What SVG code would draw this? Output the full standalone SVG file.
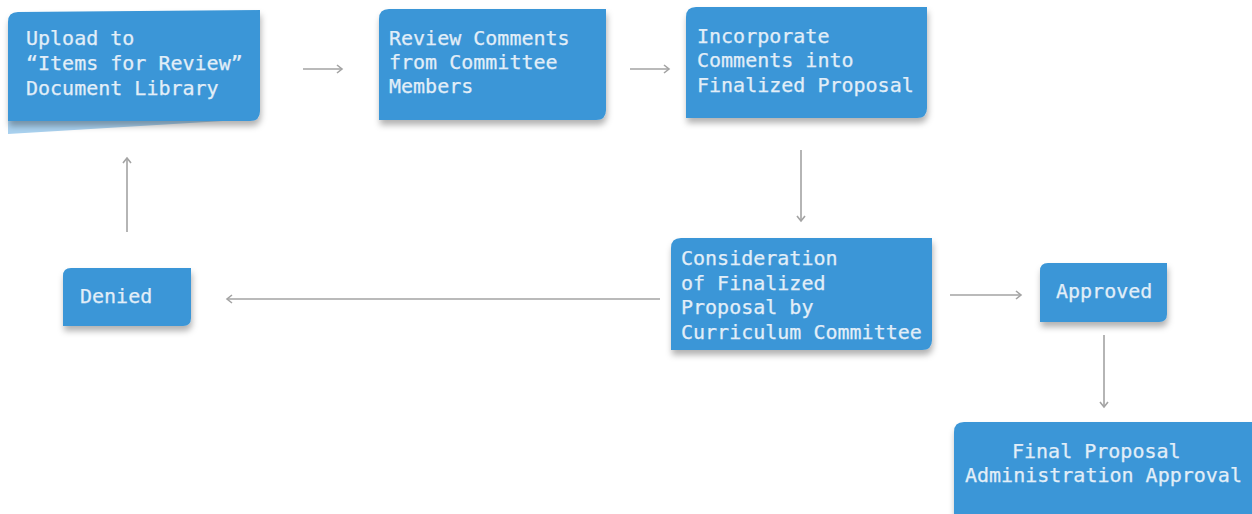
<svg xmlns="http://www.w3.org/2000/svg" width="1252" height="514" viewBox="0 0 1252 514">
  <style>
    .box { fill: #3a96d7; filter: url(#shadow); }
    .label { font-family: "DejaVu Sans Mono", "Liberation Mono", monospace; font-size: 20px; fill: #e2eef8; stroke: #e2eef8; stroke-width: 0.25; }
    .link { fill: none; stroke: #a3a3a3; stroke-width: 1.6; marker-end: url(#chev); }
  </style>
  <defs>
    <filter id="shadow" x="-10%" y="-10%" width="120%" height="140%">
      <feDropShadow dx="1" dy="5" stdDeviation="3" flood-color="#000" flood-opacity="0.3"/>
    </filter>
    <marker id="chev" viewBox="0 0 10 10" refX="7" refY="5" markerWidth="10" markerHeight="10" markerUnits="userSpaceOnUse" orient="auto">
      <path d="M2,1 L7,5 L2,9" fill="none" stroke="#a3a3a3" stroke-width="1.6"/>
    </marker>
  </defs>

  <!-- connectors -->
  <g id="connectors">
    <line class="link" x1="303" y1="69" x2="342" y2="69"/>
    <line class="link" x1="630" y1="69" x2="669" y2="69"/>
    <line class="link" x1="801" y1="150" x2="801" y2="221"/>
    <line class="link" x1="660" y1="299" x2="227" y2="299"/>
    <line class="link" x1="127" y1="232" x2="127" y2="158"/>
    <line class="link" x1="950" y1="295" x2="1021" y2="295"/>
    <line class="link" x1="1104" y1="335" x2="1104" y2="407"/>
  </g>

  <g id="upload">
    <polygon points="8,121 258,119 8,134" fill="#a9d1ef"/>
    <path class="box" d="M8,22 Q8,12 18,12 L260,10 L260,111 Q260,121 250,121 L8,121 Z"/>
    <text class="label" x="26" y="45">Upload to</text>
    <text class="label" x="26" y="70">“Items for Review”</text>
    <text class="label" x="26" y="95">Document Library</text>
  </g>

  <g id="review">
    <path class="box" d="M379,19 Q379,9 389,9 L606,9 L606,110 Q606,120 596,120 L379,120 Z"/>
    <text class="label" x="389" y="45">Review Comments</text>
    <text class="label" x="389" y="69">from Committee</text>
    <text class="label" x="389" y="93">Members</text>
  </g>

  <g id="incorporate">
    <path class="box" d="M686,17 Q686,7 696,7 L927,7 L927,108 Q927,118 917,118 L686,118 Z"/>
    <text class="label" x="697" y="43">Incorporate</text>
    <text class="label" x="697" y="67">Comments into</text>
    <text class="label" x="697" y="92">Finalized Proposal</text>
  </g>

  <g id="consideration">
    <path class="box" d="M671,248 Q671,238 681,238 L932,238 L932,340 Q932,350 922,350 L671,350 Z"/>
    <text class="label" x="681" y="265">Consideration</text>
    <text class="label" x="681" y="290">of Finalized</text>
    <text class="label" x="681" y="314">Proposal by</text>
    <text class="label" x="681" y="339">Curriculum Committee</text>
  </g>

  <g id="denied">
    <path class="box" d="M63,276 Q63,268 71,268 L191,268 L191,318 Q191,326 183,326 L63,326 Z"/>
    <text class="label" x="80" y="303">Denied</text>
  </g>

  <g id="approved">
    <path class="box" d="M1040,271 Q1040,263 1048,263 L1167,263 L1167,314 Q1167,322 1159,322 L1040,322 Z"/>
    <text class="label" x="1056" y="298">Approved</text>
  </g>

  <g id="final">
    <path class="box" d="M954,432 Q954,422 964,422 L1252,422 L1252,514 L954,514 Z"/>
    <text class="label" x="1012" y="458">Final Proposal</text>
    <text class="label" x="965" y="482">Administration Approval</text>
  </g>
</svg>
